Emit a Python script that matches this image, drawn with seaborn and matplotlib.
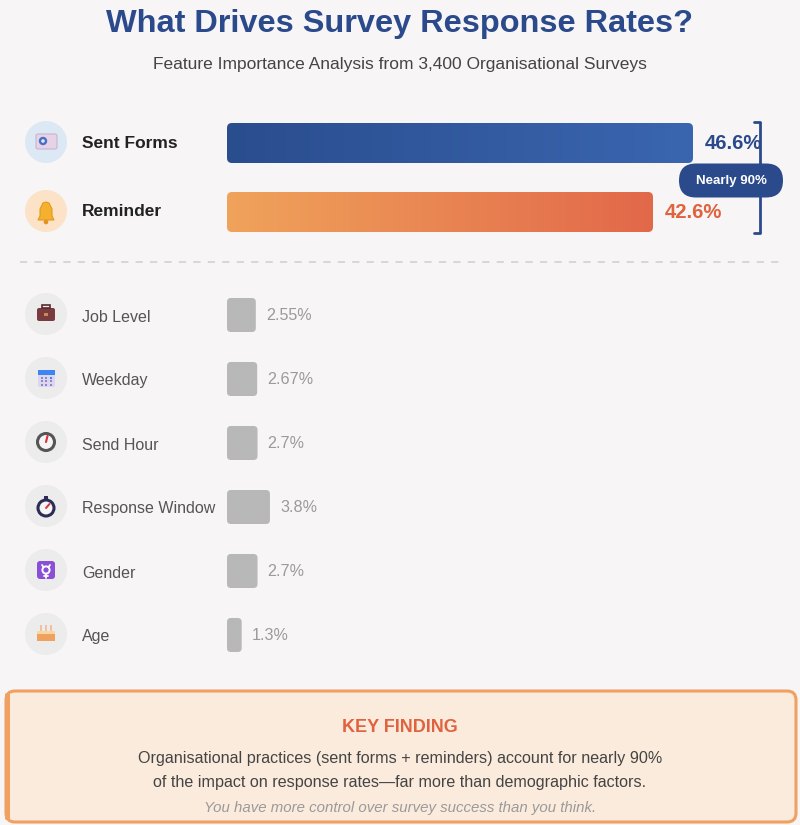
import numpy as np
import matplotlib
matplotlib.use("Agg")
import matplotlib.pyplot as plt
import seaborn as sns
from matplotlib.patches import FancyBboxPatch, Circle, Rectangle, Polygon, Ellipse
from matplotlib.colors import LinearSegmentedColormap

# ---------------- data ----------------
top_features = ["Sent Forms", "Reminder"]
top_values = [46.6, 42.6]
top_labels = ["46.6%", "42.6%"]

other_features = ["Job Level", "Weekday", "Send Hour", "Response Window", "Gender", "Age"]
other_values = [2.55, 2.67, 2.7, 3.8, 2.7, 1.3]
other_labels = ["2.55%", "2.67%", "2.7%", "3.8%", "2.7%", "1.3%"]

title = "What Drives Survey Response Rates?"
subtitle = "Feature Importance Analysis from 3,400 Organisational Surveys"
bracket_label = "Nearly 90%"
finding_head = "KEY FINDING"
finding_lines = ["Organisational practices (sent forms + reminders) account for nearly 90%",
                 "of the impact on response rates\u2014far more than demographic factors."]
finding_note = "You have more control over survey success than you think."

# ---------------- style ----------------
sns.set_theme(style="white")
plt.rcParams['font.family'] = ['Liberation Sans', 'DejaVu Sans']

BG = "#f7f5f5"
BLUE = "#2b4a8c"
ORANGE_TXT = "#e0623e"
W, H = 800, 825
fig = plt.figure(figsize=(W / 100, H / 100), dpi=100, facecolor=BG)

bg = fig.add_axes([0, 0, 1, 1], zorder=0)
bg.set_xlim(0, W)
bg.set_ylim(H, 0)
bg.axis("off")
bg.set_facecolor(BG)


def px_axes(left, top, width, height, z=2):
    ax = fig.add_axes([left / W, 1 - (top + height) / H, width / W, height / H], zorder=z)
    ax.patch.set_alpha(0)
    return ax


def round_and_fill(ax, px_x, px_y, radius, cmaps):
    patches = list(ax.patches)
    for i, p in enumerate(patches):
        x0, y0, w, h = p.get_x(), p.get_y(), p.get_width(), p.get_height()
        p.remove()
        fb = FancyBboxPatch((x0, y0), w, h,
                            boxstyle=f"round,pad=0,rounding_size={radius / px_x}",
                            mutation_aspect=px_x / px_y,
                            facecolor="none", edgecolor="none", zorder=3)
        ax.add_patch(fb)
        grad = np.linspace(0, 1, 256).reshape(1, -1)
        im = ax.imshow(grad, extent=[x0, x0 + w, y0 + h, y0], aspect="auto",
                       cmap=cmaps[i], zorder=2, interpolation="bilinear")
        im.set_clip_path(fb)


# ---------------- title ----------------
bg.text(400, 24, title, ha="center", va="center", fontsize=23.4, fontweight="bold", color=BLUE)
bg.text(400, 64, subtitle, ha="center", va="center", fontsize=12.5, color="#444444")

# ---------------- top bars ----------------
TOP_PXX = 10.0
TOP_SP = 69.0
ax1 = px_axes(227, 143 - TOP_SP / 2, 550, TOP_SP * 2)
sns.barplot(x=top_values, y=top_features, orient="h", ax=ax1, width=40 / TOP_SP,
            color="#2b4a8c", saturation=1)
ax1.set_xlim(0, 550 / TOP_PXX)
ax1.set_ylim(1.5, -0.5)
cm_blue = LinearSegmentedColormap.from_list("b", ["#2a4d8e", "#3a66b0"])
cm_orange = LinearSegmentedColormap.from_list("o", ["#f0a35b", "#e2684a"])
round_and_fill(ax1, TOP_PXX, TOP_SP, 5, [cm_blue, cm_orange])
ax1.set_xlim(0, 550 / TOP_PXX)
ax1.set_ylim(1.5, -0.5)
ax1.axis("off")
top_colors = [BLUE, ORANGE_TXT]
for i, v in enumerate(top_values):
    ax1.text(v + 12 / TOP_PXX, i, top_labels[i], ha="left", va="center",
             fontsize=14.6, fontweight="bold", color=top_colors[i], zorder=5)

# top labels + icons
top_icon_bg = ["#dde8f5", "#fce2c6"]
for i, name in enumerate(top_features):
    yc = 143 + i * TOP_SP
    bg.add_patch(Circle((46, yc - 1), 21, facecolor=top_icon_bg[i], edgecolor="none"))
    bg.text(82, yc, name, ha="left", va="center", fontsize=12.5, fontweight="bold", color="#222222")

# envelope icon
bg.add_patch(FancyBboxPatch((36, 134), 21, 15, boxstyle="round,pad=0,rounding_size=2",
                            facecolor="#e6d3e6", edgecolor="#c9b4d3", lw=0.8))
bg.add_patch(Circle((43, 141), 4.2, facecolor="#4a6fc4", edgecolor="none"))
bg.add_patch(Circle((43, 141), 1.8, facecolor="#dde8f5", edgecolor="none"))
# bell icon
bell = Polygon([(38, 220), (40, 216), (40, 209), (43, 203), (46, 202), (49, 203), (52, 209),
                (52, 216), (54, 220)], closed=True, facecolor="#f4b02e", edgecolor="#e39a1d", lw=0.8)
bg.add_patch(bell)
bg.add_patch(Circle((46, 222), 2.3, facecolor="#e3901c", edgecolor="none"))

# bracket
bg.plot([760, 760], [122, 233], color=BLUE, lw=2, solid_capstyle="butt", zorder=4)
bg.plot([754, 760], [122, 122], color=BLUE, lw=2, zorder=4)
bg.plot([754, 760], [233, 233], color=BLUE, lw=2, zorder=4)
bg.add_patch(FancyBboxPatch((679, 163.5), 104, 34, boxstyle="round,pad=0,rounding_size=17",
                            facecolor=BLUE, edgecolor="none", zorder=5))
bg.text(731, 181, bracket_label, ha="center", va="center", fontsize=9.5,
        fontweight="bold", color="white", zorder=6)

# separator
bg.plot([20, 780], [262, 262], color="#d4d4d4", lw=1.3, ls=(0, (4, 4)))

# ---------------- other bars ----------------
BOT_PXX = 11.3
BOT_SP = 64.0
ax2 = px_axes(227, 315 - BOT_SP / 2, 550, BOT_SP * 6)
sns.barplot(x=other_values, y=other_features, orient="h", ax=ax2, width=34 / BOT_SP,
            color="#b8b8b8", saturation=1)
cm_gray = LinearSegmentedColormap.from_list("g", ["#b8b8b8", "#b8b8b8"])
round_and_fill(ax2, BOT_PXX, BOT_SP, 4, [cm_gray] * len(other_values))
ax2.set_xlim(0, 550 / BOT_PXX)
ax2.set_ylim(5.5, -0.5)
ax2.axis("off")
for i, v in enumerate(other_values):
    ax2.text(v + 10 / BOT_PXX, i, other_labels[i], ha="left", va="center",
             fontsize=11.6, color="#9a9a9a", zorder=5)

for i, name in enumerate(other_features):
    yc = 315 + i * BOT_SP
    bg.add_patch(Circle((46, yc - 1), 21, facecolor="#ececec", edgecolor="none"))
    bg.text(82, yc + 2, name, ha="left", va="center", fontsize=11.5, color="#555555")

# icons for small rows
y0 = 315
# briefcase
bg.add_patch(FancyBboxPatch((37, y0 - 7), 18, 13, boxstyle="round,pad=0,rounding_size=2",
                            facecolor="#7a3b3f", edgecolor="none"))
bg.add_patch(Rectangle((42, y0 - 10), 8, 3, facecolor="none", edgecolor="#5a2a2d", lw=1.2))
bg.add_patch(Rectangle((44, y0 - 2), 4, 3, facecolor="#c98a5a", edgecolor="none"))
# calendar
y1 = 379
bg.add_patch(FancyBboxPatch((38, y1 - 9), 17, 17, boxstyle="round,pad=0,rounding_size=2",
                            facecolor="#ddd6ef", edgecolor="none"))
bg.add_patch(Rectangle((38, y1 - 9), 17, 4.5, facecolor="#3d86f0", edgecolor="none"))
for r in range(3):
    for c in range(3):
        bg.add_patch(Rectangle((41 + c * 4.3, y1 - 2 + r * 3.4), 2, 2,
                               facecolor="#8d86c9" if not (r == 0 and c == 2) else "#3d86f0",
                               edgecolor="none"))
# clock
y2 = 443
bg.add_patch(Circle((46, y2 - 1), 8.5, facecolor="#f4f4f4", edgecolor="#555555", lw=2.2))
bg.plot([46, 47.5], [y2 - 1, y2 - 7], color="#d9303a", lw=1.5)
# stopwatch
y3 = 507
bg.add_patch(Circle((46, y3 + 1), 8, facecolor="#f6f6f6", edgecolor="#2c2c55", lw=2.2))
bg.add_patch(Rectangle((44, y3 - 11), 4, 3, facecolor="#2c2c55", edgecolor="none"))
bg.plot([46, 49.5], [y3 + 1, y3 - 3], color="#d9303a", lw=1.4)
# gender
y4 = 571
bg.add_patch(FancyBboxPatch((37, y4 - 10), 18, 18, boxstyle="round,pad=0,rounding_size=3",
                            facecolor="#8a4fd6", edgecolor="none"))
bg.add_patch(Circle((46, y4 - 1), 3.6, facecolor="none", edgecolor="white", lw=1.4))
bg.plot([46, 46], [y4 + 2.6, y4 + 6.5], color="white", lw=1.3)
bg.plot([44, 48], [y4 + 4.5, y4 + 4.5], color="white", lw=1.3)
bg.plot([42, 43.5], [y4 - 6, y4 - 4], color="white", lw=1.3)
bg.plot([50, 48.5], [y4 - 6, y4 - 4], color="white", lw=1.3)
# cake
y5 = 635
bg.add_patch(Rectangle((37, y5 - 4), 18, 10, facecolor="#eea25e", edgecolor="none"))
bg.add_patch(Rectangle((37, y5 - 4), 18, 3, facecolor="#f7d6a8", edgecolor="none"))
for cx in (41, 46, 51):
    bg.add_patch(Rectangle((cx - 0.8, y5 - 10), 1.6, 6, facecolor="#f2c0a0", edgecolor="none"))

# ---------------- key finding box ----------------
bg.add_patch(FancyBboxPatch((6, 691), 790, 131, boxstyle="round,pad=0,rounding_size=9",
                            facecolor="#fbebdc", edgecolor="#f0a060", lw=2.2, zorder=1))
bg.add_patch(FancyBboxPatch((5, 693), 5, 127, boxstyle="round,pad=0,rounding_size=2",
                            facecolor="#f0a060", edgecolor="none", zorder=1.5))
bg.text(400, 727, finding_head, ha="center", va="center", fontsize=13, fontweight="bold",
        color=ORANGE_TXT, zorder=3)
bg.text(400, 758, finding_lines[0], ha="center", va="center", fontsize=11.6, color="#444444", zorder=3)
bg.text(400, 782, finding_lines[1], ha="center", va="center", fontsize=11.6, color="#444444", zorder=3)
bg.text(400, 808, finding_note, ha="center", va="center", fontsize=10.8, style="italic",
        color="#9a9a9a", zorder=3)

fig.savefig("out.png", dpi=100, facecolor=BG)
